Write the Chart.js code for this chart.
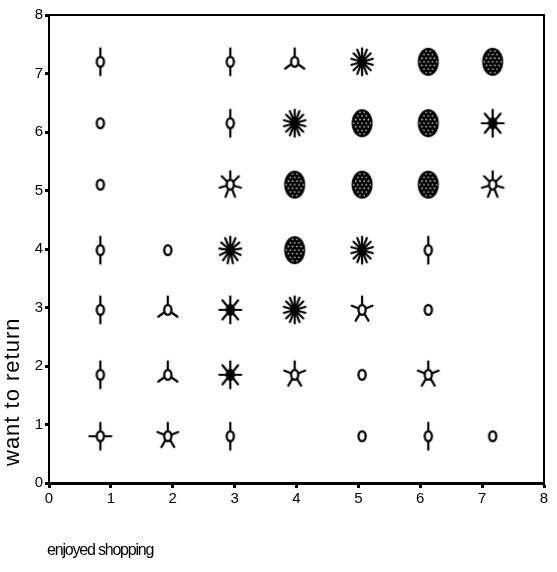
<!DOCTYPE html>
<html>
<head>
<meta charset="utf-8">
<script src="https://cdn.jsdelivr.net/npm/chart.js@4/dist/chart.umd.min.js"></script>
<style>
  html, body { margin: 0; padding: 0; background: #fff; }
  #wrap { width: 557px; height: 572px; }
</style>
</head>
<body>
<div id="wrap"><canvas id="c" width="557" height="572"></canvas></div>
<script>
// ---- data ----
const xTitle = "enjoyed shopping";
const yTitle = "want to return";
const tickValues = [0, 1, 2, 3, 4, 5, 6, 7, 8];
// plotted centre of each category (as drawn in the reference)
const xPositions = [0.83, 1.92, 2.93, 3.97, 5.06, 6.13, 7.17];
const yPositions = [0.80, 1.85, 2.96, 3.98, 5.10, 6.15, 7.20];
// number of observations (sunflower petals) per cell, one array per "want to return" level
const countsY1 = [4, 5, 2, 0, 1, 2, 1];
const countsY2 = [2, 3, 8, 5, 1, 5, 0];
const countsY3 = [2, 3, 8, 14, 5, 1, 0];
const countsY4 = [2, 1, 13, 25, 14, 2, 0];
const countsY5 = [1, 0, 7, 20, 22, 18, 7];
const countsY6 = [1, 0, 2, 14, 25, 25, 8];
const countsY7 = [2, 0, 2, 3, 14, 28, 30];
const countRows = [countsY1, countsY2, countsY3, countsY4, countsY5, countsY6, countsY7];

// ---- sunflower glyph builder ----
function makeGlyph(n) {
  const size = 36;
  const cv = document.createElement('canvas');
  cv.width = size; cv.height = size;
  const g = cv.getContext('2d');
  const cx = size / 2, cy = size / 2;
  g.strokeStyle = '#000';
  g.fillStyle = '#000';
  g.lineCap = 'round';
  if (n >= 18) {
    g.beginPath();
    g.ellipse(cx, cy, 10.5, 14, 0, 0, Math.PI * 2);
    g.fill();
    g.fillStyle = '#fff';
    for (let r = -4; r <= 4; r++) {
      for (let c = -4; c <= 4; c++) {
        const px = cx + c * 4.2 + (r % 2 ? 2.1 : 0);
        const py = cy + r * 3.6;
        const dx = (px - cx) / 8.5, dy = (py - cy) / 12;
        if (dx * dx + dy * dy < 1) {
          g.beginPath();
          g.arc(px, py, 0.8, 0, Math.PI * 2);
          g.fill();
        }
      }
    }
    return cv;
  }
  g.lineWidth = 2.2;
  if (n >= 2) {
    for (let i = 0; i < n; i++) {
      const a = (i / n) * Math.PI * 2;
      g.beginPath();
      g.moveTo(cx, cy);
      g.lineTo(cx + Math.sin(a) * 11, cy - Math.cos(a) * 13.5);
      g.stroke();
    }
  }
  g.lineWidth = 2.3;
  g.fillStyle = '#fff';
  g.beginPath();
  g.ellipse(cx, cy, 3.6, 4.9, 0, 0, Math.PI * 2);
  if (n < 8) g.fill();
  g.stroke();
  return cv;
}

const points = [];
const styles = [];
countRows.forEach((row, ri) => {
  row.forEach((n, ci) => {
    if (n > 0) {
      points.push({ x: xPositions[ci], y: yPositions[ri], n: n });
      styles.push(makeGlyph(n));
    }
  });
});

const framePlugin = {
  id: 'frame',
  afterDraw(chart) {
    const { ctx, chartArea: a } = chart;
    ctx.save();
    ctx.strokeStyle = '#000';
    ctx.lineWidth = 2;
    ctx.beginPath();
    ctx.moveTo(a.left, a.top);
    ctx.lineTo(a.right, a.top);
    ctx.lineTo(a.right, a.bottom);
    ctx.stroke();
    // axis titles
    ctx.fillStyle = '#000';
    ctx.font = '22px "Liberation Sans", Arial, sans-serif';
    if ('letterSpacing' in ctx) ctx.letterSpacing = '1px';
    ctx.textBaseline = 'middle';
    ctx.textAlign = 'left';
    ctx.translate(13, 466);
    ctx.rotate(-Math.PI / 2);
    ctx.fillText(yTitle, 0, 0);
    ctx.restore();
    ctx.save();
    ctx.fillStyle = '#000';
    ctx.font = '16px "Liberation Sans", Arial, sans-serif';
    if ('letterSpacing' in ctx) ctx.letterSpacing = '-1.2px';
    ctx.textAlign = 'left';
    ctx.textBaseline = 'middle';
    ctx.fillText(xTitle, 47, 551);
    ctx.restore();
  }
};

const tickFont = { family: '"Liberation Sans", Arial, sans-serif', size: 15 };

new Chart(document.getElementById('c'), {
  type: 'scatter',
  data: {
    datasets: [{
      data: points,
      pointStyle: styles,
      pointRadius: 12,
      pointHoverRadius: 12,
      borderColor: '#000',
      backgroundColor: '#000'
    }]
  },
  options: {
    responsive: false,
    devicePixelRatio: 1,
    animation: false,
    layout: { padding: { top: 15, right: 8, left: 0, bottom: 0 } },
    plugins: { legend: { display: false }, tooltip: { enabled: false } },
    scales: {
      x: {
        type: 'linear', min: 0, max: 8,
        afterBuildTicks(s) { s.ticks = tickValues.map(v => ({ value: v })); },
        afterFit(s) { s.height = 89; },
        ticks: { color: '#000', font: tickFont, padding: 2 },
        grid: { drawOnChartArea: false, tickLength: 5, tickWidth: 3, color: '#000' },
        border: { color: '#000', width: 3 }
      },
      y: {
        type: 'linear', min: 0, max: 8,
        afterBuildTicks(s) { s.ticks = tickValues.map(v => ({ value: v })); },
        afterFit(s) { s.width = 49; },
        ticks: { color: '#000', font: tickFont, padding: 2 },
        grid: { drawOnChartArea: false, tickLength: 4, tickWidth: 3, color: '#000' },
        border: { color: '#000', width: 2 }
      }
    }
  },
  plugins: [framePlugin]
});
</script>
</body>
</html>
